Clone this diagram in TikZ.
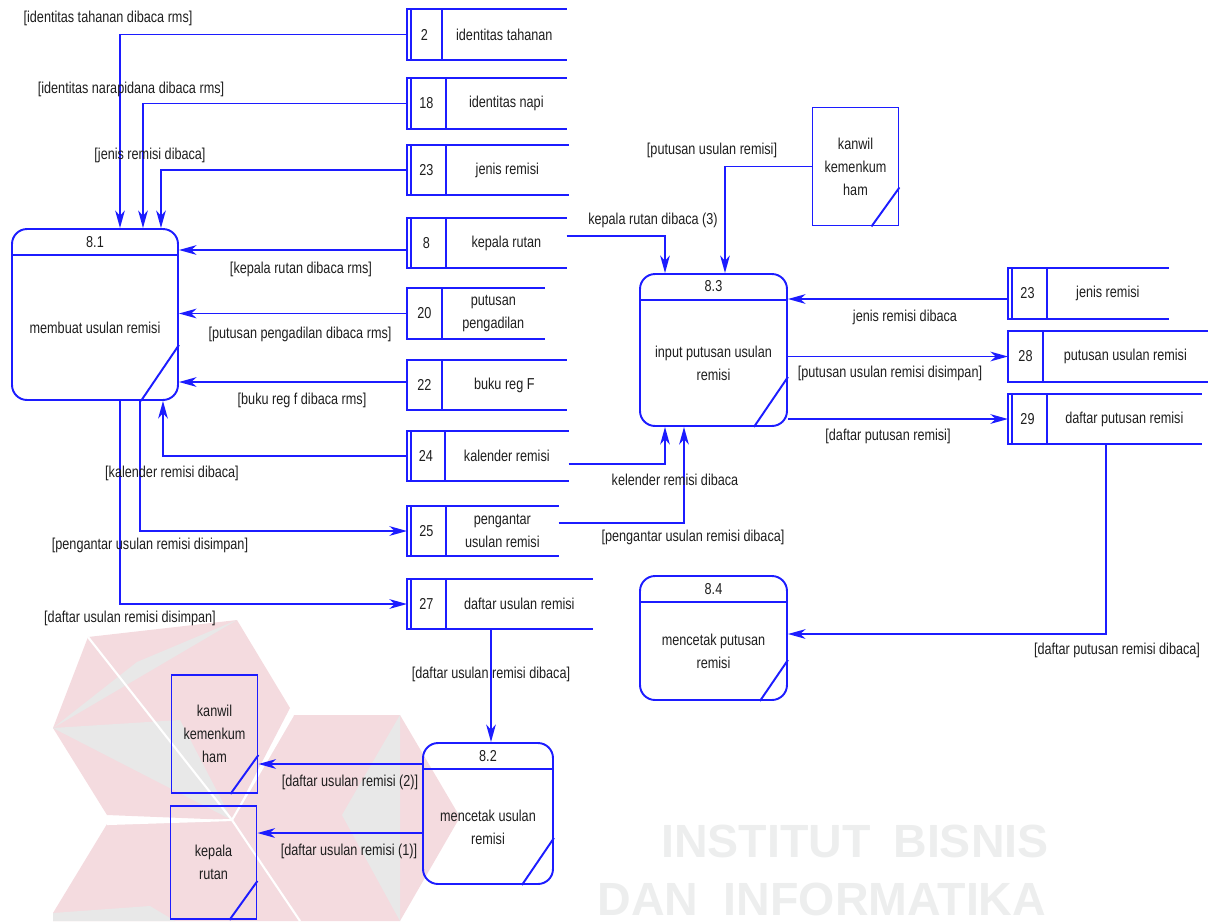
\documentclass[tikz,border=0pt]{standalone}
\usepackage{fontspec}
\setmainfont{Liberation Sans}[FakeStretch=0.8]
\newfontfamily\markfont{Liberation Sans}
\usetikzlibrary{calc,arrows.meta,positioning}
\definecolor{dfdBlue}{RGB}{28,28,255}
\definecolor{dfdText}{RGB}{30,30,30}
\definecolor{markPink}{RGB}{244,219,223}
\definecolor{markGray}{RGB}{232,232,232}
\definecolor{markText}{RGB}{237,238,238}

\tikzset{
  dfd/.style={draw=dfdBlue, line width=1.1pt},
  flow/.style={dfd, -{Stealth[length=10pt,width=5.5pt,inset=3pt]}},
  txt/.style={text=dfdText, font=\fontsize{9}{13}\selectfont, inner sep=0pt, align=center},
  proc/.style={dfd, rounded corners=0.3cm, inner sep=0pt},
  ent/.style={dfd, txt, minimum width=1.72cm, minimum height=2.36cm},
  store/.style={inner sep=0pt, minimum height=1cm, anchor=west},
  dbl/.style={},
  sgl/.style={draw=none},
  wmark/.style={text=markText, font=\markfont\bfseries\fontsize{26.5}{26.5}\selectfont, inner sep=0pt, anchor=base},
}

% process: name, centre, width, height, number, text, slash dx, slash dy
\newcommand{\dfdprocess}[8]{%
  \node[proc, minimum width=#3, minimum height=#4] (#1) at #2 {};
  \draw[dfd] ([yshift=-0.54cm]#1.north west) -- ([yshift=-0.54cm]#1.north east);
  \draw[dfd] ([xshift=-#7]#1.south east) -- ([yshift=#8]#1.south east);
  \node[txt] (#1-no) at ([yshift=-0.27cm]#1.north) {#5};
  \node[txt] (#1-txt) at ($(#1.south)!0.5!([yshift=-0.54cm]#1.north)$) {#6};
}
% external entity: options, name, centre, text
\newcommand{\dfdentity}[4][]{%
  \node[ent,#1] (#2) at #3 {#4};
  \draw[dfd] ([xshift=-0.56cm]#2.south east) -- ([yshift=0.78cm]#2.south east);
}
% data store: name, west point, width, number width, sgl/dbl, number, text
\newcommand{\dfdstore}[7]{%
  \node[store, minimum width=#3] (#1) at #2 {};
  \draw[dfd] (#1.north east) -- (#1.north west) -- (#1.south west) -- (#1.south east);
  \draw[dfd,#5] ([xshift=0.08cm]#1.north west) -- ([xshift=0.08cm]#1.south west);
  \draw[dfd] ([xshift=#4]#1.north west) coordinate (#1-d) -- ([xshift=#4]#1.south west);
  \node[txt] (#1-no) at ($(#1.west)!0.5!(#1-d |- #1.west)$) {#6};
  \node[txt] (#1-txt) at ($(#1-d |- #1.west)!0.5!(#1.east)$) {#7};
}

\begin{document}
\begin{tikzpicture}[x=0.02cm, y=-0.02cm]
\useasboundingbox (0,0) rectangle (1215,921);

% logo and lettering in the background
\fill[markPink] (237,620) -- (88,637) -- (53,728) -- (107,815) -- (232,820) -- (290,708) -- cycle;
\fill[markGray] (237,620) -- (137,662) -- (53,728) -- cycle;
\fill[markGray] (53,728) -- (180,720) -- (232,820) -- cycle;
\fill[markPink] (232,820) -- (293,715) -- (400,715) -- (460,817) -- (400,921) -- (232,921) -- cycle;
\fill[markGray] (400,715) -- (342,815) -- (400,921) -- cycle;
\fill[markPink] (232,820) -- (107,824) -- (53,913) -- (53,921) -- (232,921) -- cycle;
\fill[markGray] (53,913) -- (150,906) -- (175,921) -- (53,921) -- cycle;
\draw[white, line width=1.2pt] (232,820) -- (88,637) (232,820) -- (293,715) (232,820) -- (107,824) (232,820) -- (300,921);
\node[wmark] (w1) at (766,857) {INSTITUT};
\node[wmark] (w2) at (971,857) {BISNIS};
\node[wmark] (w3) at (648,915) {DAN};
\node[wmark] (w4) at (885,915) {INFORMATIKA};

\dfdprocess{p81}{(95,314.5)}{3.32cm}{3.42cm}{8.1}{membuat usulan remisi}{0.76cm}{1.12cm}
\dfdprocess{p83}{(713.5,350)}{2.94cm}{3.04cm}{8.3}{input putusan usulan\\remisi}{0.68cm}{1cm}
\dfdprocess{p84}{(713.5,638)}{2.94cm}{2.48cm}{8.4}{mencetak putusan\\remisi}{0.56cm}{0.82cm}
\dfdprocess{p82}{(488,813.5)}{2.6cm}{2.82cm}{8.2}{mencetak usulan\\remisi}{0.64cm}{0.94cm}

\dfdentity{k1}{(855.5,166.5)}{kanwil\\kemenkum\\ham}
\dfdentity{k2}{(214.5,734)}{kanwil\\kemenkum\\ham}
\dfdentity[minimum height=2.26cm]{kr}{(213.5,862.5)}{kepala\\rutan}

\dfdstore{s2}{(407,34.5)}{3.18cm}{0.70cm}{dbl}{2}{identitas tahanan}
\dfdstore{s18}{(407,103.5)}{3.18cm}{0.78cm}{dbl}{18}{identitas napi}
\dfdstore{s23a}{(407,170)}{3.22cm}{0.78cm}{dbl}{23}{jenis remisi}
\dfdstore{s8}{(407,243)}{3.18cm}{0.78cm}{dbl}{8}{kepala rutan}
\dfdstore{s20}{(407,313.5)}{2.74cm}{0.70cm}{sgl}{20}{putusan\\pengadilan}
\dfdstore{s22}{(407,385)}{3.18cm}{0.70cm}{sgl}{22}{buku reg F}
\dfdstore{s24}{(407,456)}{3.22cm}{0.76cm}{dbl}{24}{kalender remisi}
\dfdstore{s25}{(407,531)}{3.02cm}{0.78cm}{dbl}{25}{pengantar\\usulan remisi}
\dfdstore{s27}{(407,604)}{3.70cm}{0.78cm}{dbl}{27}{daftar usulan remisi}
\dfdstore{s23b}{(1008,293.5)}{3.20cm}{0.78cm}{dbl}{23}{jenis remisi}
\dfdstore{s28}{(1008,356.5)}{3.98cm}{0.70cm}{sgl}{28}{putusan usulan remisi}
\dfdstore{s29}{(1008,419)}{3.86cm}{0.78cm}{dbl}{29}{daftar putusan remisi}

% flows of 8.1
\draw[flow] (s2.west) -| ([xshift=0.5cm]p81.north);
\draw[flow] (s18.west) -| ([xshift=0.96cm]p81.north);
\draw[flow] (s23a.west) -| ([xshift=1.32cm]p81.north);
\draw[flow] ([yshift=-0.14cm]s8.west) coordinate (f8) -- (f8 -| p81.east);
\draw[flow] (s20.west) -- (s20.west -| p81.east);
\draw[flow] ([yshift=0.06cm]s22.west) coordinate (f22) -- (f22 -| p81.east);
\draw[flow] (s24.west) -| ([xshift=1.36cm]p81.south);
\draw[flow] ([xshift=0.9cm]p81.south) |- (s25.west);
\draw[flow] ([xshift=0.5cm]p81.south) |- (s27.west);

% flows of 8.3 and 8.4
\draw[flow] ([yshift=0.14cm]s8.east) -| ([xshift=-0.97cm]p83.north);
\draw[flow] (k1.west) -| ([xshift=0.23cm]p83.north);
\draw[flow] ([yshift=-0.16cm]s24.east) -| ([xshift=-0.97cm]p83.south);
\draw[flow] ([yshift=0.16cm]s25.east) -| ([xshift=-0.59cm]p83.south);
\draw[flow] ([yshift=-0.11cm]s23b.west) coordinate (f23) -- (f23 -| p83.east);
\draw[flow] (s28.west -| p83.east) -- (s28.west);
\draw[flow] (s29.west -| p83.east) -- (s29.west);
\draw[flow] ([xshift=0.03cm]s29.south) |- ([yshift=0.08cm]p84.east);

% flows of 8.2
\coordinate (f27) at ([xshift=0.06cm]p82.north);
\draw[flow] (f27 |- s27.south) -- (f27);
\coordinate (fk2) at ([yshift=-0.6cm]k2.east);
\draw[flow] (fk2 -| p82.west) -- (fk2);
\coordinate (fkr) at ([yshift=0.59cm]kr.east);
\draw[flow] (fkr -| p82.west) -- (fkr);

\node[txt] (l1) at (108,18) {[identitas tahanan dibaca rms]};
\node[txt] (l2) at (131,89) {[identitas narapidana dibaca rms]};
\node[txt] (l3) at (150,155) {[jenis remisi dibaca]};
\node[txt] (l4) at (301,269) {[kepala rutan dibaca rms]};
\node[txt] (l5) at (300,334) {[putusan pengadilan dibaca rms]};
\node[txt] (l6) at (302,400) {[buku reg f dibaca rms]};
\node[txt] (l7) at (172,473) {[kalender remisi dibaca]};
\node[txt] (l8) at (150,545) {[pengantar usulan remisi disimpan]};
\node[txt] (l9) at (130,618) {[daftar usulan remisi disimpan]};
\node[txt] (l10) at (653,220) {kepala rutan dibaca (3)};
\node[txt] (l11) at (712,150) {[putusan usulan remisi]};
\node[txt] (l12) at (905,317) {jenis remisi dibaca};
\node[txt] (l13) at (890,373) {[putusan usulan remisi disimpan]};
\node[txt] (l14) at (888,436) {[daftar putusan remisi]};
\node[txt] (l15) at (675,480) {kelender remisi dibaca};
\node[txt] (l16) at (693,537) {[pengantar usulan remisi dibaca]};
\node[txt] (l17) at (1117,650) {[daftar putusan remisi dibaca]};
\node[txt] (l18) at (491,674) {[daftar usulan remisi dibaca]};
\node[txt] (l19) at (350,782) {[daftar usulan remisi (2)]};
\node[txt] (l20) at (349,851) {[daftar usulan remisi (1)]};
\end{tikzpicture}
\end{document}
